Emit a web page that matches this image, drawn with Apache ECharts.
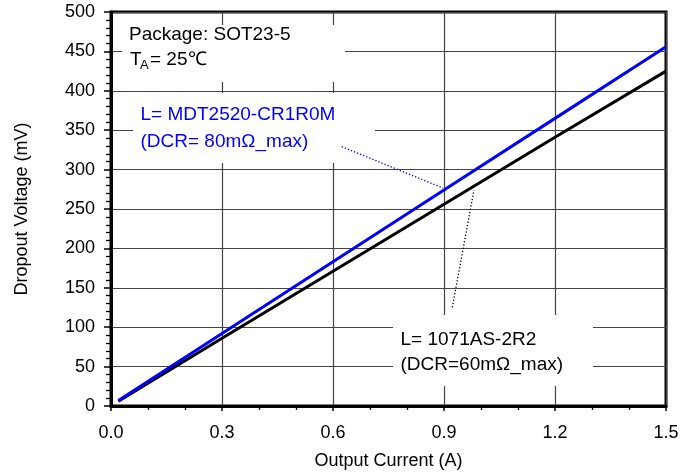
<!DOCTYPE html>
<html>
<head>
<meta charset="utf-8">
<script src="https://cdn.jsdelivr.net/npm/echarts@6/dist/echarts.min.js"></script>
<style>html,body{margin:0;padding:0;background:#fff}#c{width:694px;height:475px}</style>
</head>
<body>
<div id="c"></div>
<script>
// Data
var currentA = [0.02, 0.3, 0.6, 0.9, 1.2, 1.5];
var voltMDT2520 = [7, 92, 183, 274, 365, 456];
var volt1071AS = [6, 86, 171, 256, 341, 425];
var xTicks = [0, 0.3, 0.6, 0.9, 1.2, 1.5];
var yTicks = [0, 50, 100, 150, 200, 250, 300, 350, 400, 450, 500];
var labelPackage = 'Package: SOT23-5';
var labelBlue = ['L= MDT2520-CR1R0M', '(DCR= 80m\u03A9_max)'];
var labelBlack = ['L= 1071AS-2R2', '(DCR=60m\u03A9_max)'];

var FONT = '"Liberation Sans", Arial, Helvetica, sans-serif';

function pairs(xs, ys) { return xs.map(function (x, i) { return [x, ys[i]]; }); }

var chart = echarts.init(document.getElementById('c'), null, {renderer: 'canvas'});

function box(x, y, w, h) {
  return {type: 'rect', z: 1, silent: true, shape: {x: x, y: y, width: w, height: h}, style: {fill: '#fff'}};
}
function txt(x, y, s, size, color) {
  return {type: 'text', z: 3, silent: true, x: x, y: y,
    style: {text: s, fill: color, font: size + 'px ' + FONT, textVerticalAlign: 'middle', textAlign: 'left'}};
}
function dotted(x1, y1, x2, y2, color) {
  return {type: 'line', z: 3, silent: true, shape: {x1: x1, y1: y1, x2: x2, y2: y2},
    style: {stroke: color, lineWidth: 1.3, lineDash: [1.3, 2]}};
}

var option = {
  animation: false,
  backgroundColor: '#fff',
  grid: {left: 111, right: 28, top: 12, bottom: 65, show: true, borderColor: '#000', borderWidth: 3, backgroundColor: 'transparent'},
  xAxis: {
    type: 'value', min: 0, max: 1.5, interval: 0.3,
    name: 'Output Current (A)', nameLocation: 'middle', nameGap: 46,
    nameTextStyle: {fontSize: 18, color: '#000', fontFamily: FONT},
    axisLine: {show: true, lineStyle: {color: '#000', width: 3}},
    axisTick: {show: true, length: 5, lineStyle: {color: '#000', width: 1.5}},
    minorTick: {show: true, splitNumber: 3, length: 4, lineStyle: {color: '#000', width: 1.3}},
    splitLine: {show: true, lineStyle: {color: '#444', width: 1.2}},
    axisLabel: {fontSize: 18, color: '#000', fontFamily: FONT, margin: 18,
      formatter: function (v) { return v.toFixed(1); }}
  },
  yAxis: {
    type: 'value', min: 0, max: 500, interval: 50,
    name: 'Dropout Voltage (mV)', nameLocation: 'middle', nameGap: 80,
    nameTextStyle: {fontSize: 18, color: '#000', fontFamily: FONT},
    axisLine: {show: true, lineStyle: {color: '#000', width: 3}},
    axisTick: {show: true, length: 7, lineStyle: {color: '#000', width: 1.5}},
    minorTick: {show: true, splitNumber: 5, length: 5, lineStyle: {color: '#000', width: 1.3}},
    splitLine: {show: true, lineStyle: {color: '#444', width: 1.2}},
    axisLabel: {fontSize: 18, color: '#000', fontFamily: FONT, margin: 16}
  },
  series: [
    {type: 'line', name: '1071AS-2R2', data: pairs(currentA, volt1071AS), showSymbol: false, symbol: 'none',
      lineStyle: {color: '#000', width: 3}, z: 4},
    {type: 'line', name: 'MDT2520-CR1R0M', data: pairs(currentA, voltMDT2520), showSymbol: false, symbol: 'none',
      lineStyle: {color: '#0000ff', width: 3}, z: 5}
  ],
  graphic: [
    box(122, 25, 223, 57),
    box(133, 93, 242, 70),
    box(393, 315, 200, 71),
    txt(129, 34.5, labelPackage, 19, '#000'),
    txt(130, 60, 'T', 19, '#000'),
    txt(140, 65.5, 'A', 13, '#000'),
    txt(150, 60, '= 25\u2103', 19, '#000'),
    txt(140.5, 115, labelBlue[0], 19, '#0000ff'),
    txt(140.5, 141.5, labelBlue[1], 19, '#0000ff'),
    txt(400.5, 339.5, labelBlack[0], 19, '#000'),
    txt(400.5, 365, labelBlack[1], 19, '#000'),
    dotted(341.7, 146.7, 443, 188, '#0000ff'),
    dotted(452.3, 307.3, 474, 190, '#000')
  ]
};
chart.setOption(option);
</script>
</body>
</html>
